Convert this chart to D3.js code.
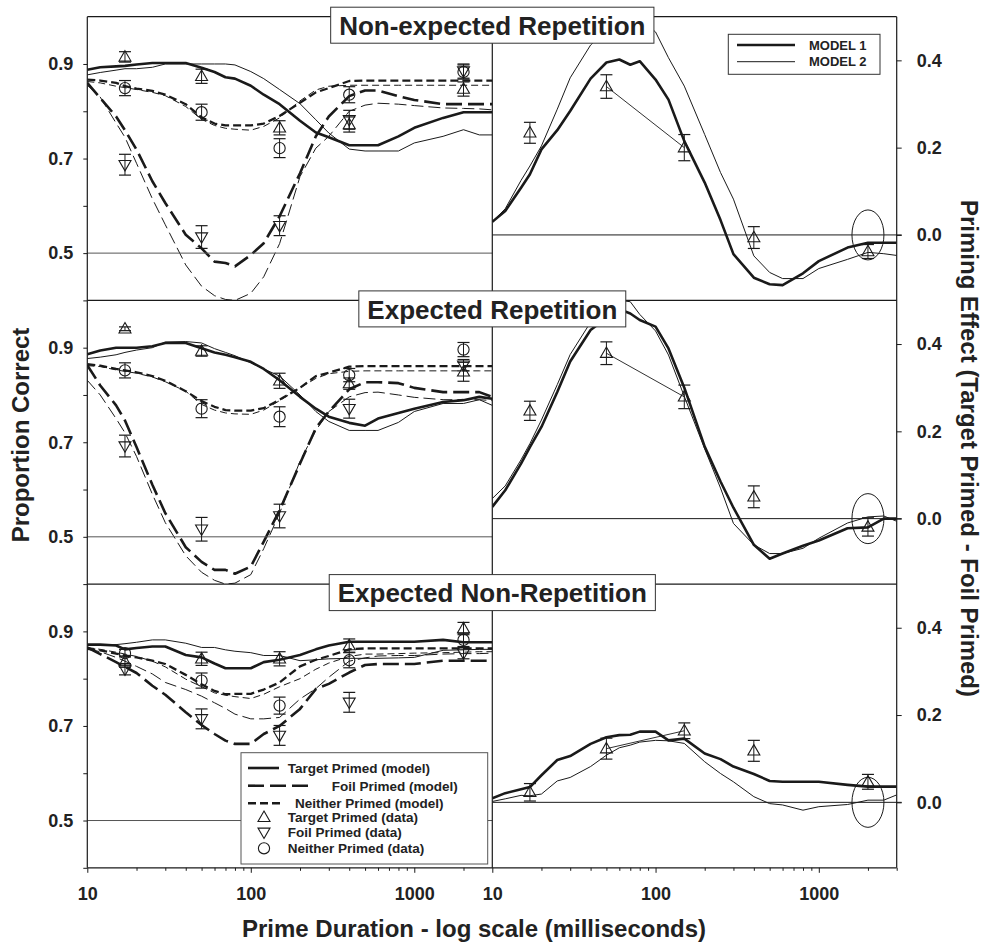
<!DOCTYPE html>
<html><head><meta charset="utf-8">
<script src="https://cdn.jsdelivr.net/npm/d3@7"></script>
<style>
body{margin:0;background:#fff}
svg{display:block}
text{font-family:"Liberation Sans",Arial,Helvetica,sans-serif;font-weight:bold;fill:#222}
</style>
</head><body><svg id="c" width="982" height="942"></svg>
<script>
// ---------- DATA ----------
const durations = [10,12,15,17,20,25,30,40,50,60,70,80,100,120,150,200,250,300,400,500,600,800,1000,1500,2000,2500,3000];
const dataDurations = [17,50,150,400,2000];
const panelTitles = ["Non-expected Repetition","Expected Repetition","Expected Non-Repetition"];
const leftTicks = [0.4,0.5,0.6,0.7,0.8,0.9];
const leftTickLabels = [0.5,0.7,0.9];
const rightTicks = [0.0,0.2,0.4];
const xMajorTicks = [10,100,1000];
const xMinorTicks = [20,30,40,50,60,70,80,90,200,300,400,500,600,700,800,900,2000,3000];

// Non-expected Repetition
const targetM1_NE = [0.888,0.893,0.895,0.896,0.899,0.902,0.902,0.902,0.892,0.883,0.872,0.869,0.854,0.835,0.815,0.78,0.755,0.745,0.728,0.728,0.728,0.747,0.765,0.786,0.798,0.798,0.798];
const targetM2_NE = [0.877,0.882,0.887,0.89,0.89,0.893,0.9,0.9,0.9,0.9,0.9,0.898,0.884,0.869,0.846,0.816,0.782,0.754,0.72,0.716,0.716,0.716,0.733,0.747,0.761,0.75,0.75];
const foilM1_NE = [0.86,0.828,0.789,0.76,0.719,0.652,0.606,0.539,0.51,0.482,0.479,0.472,0.496,0.521,0.578,0.669,0.747,0.789,0.832,0.844,0.844,0.832,0.824,0.815,0.815,0.815,0.815];
const foilM2_NE = [0.855,0.83,0.775,0.745,0.69,0.615,0.56,0.475,0.43,0.41,0.402,0.40,0.415,0.45,0.52,0.662,0.722,0.747,0.80,0.813,0.817,0.815,0.812,0.807,0.806,0.805,0.803];
const neitherM1_NE = [0.867,0.865,0.86,0.853,0.848,0.843,0.835,0.815,0.787,0.774,0.77,0.77,0.77,0.774,0.79,0.818,0.84,0.849,0.864,0.865,0.865,0.865,0.865,0.865,0.865,0.865,0.865];
const neitherM2_NE = [0.863,0.86,0.853,0.85,0.846,0.84,0.833,0.81,0.783,0.77,0.764,0.762,0.76,0.768,0.786,0.822,0.845,0.853,0.855,0.855,0.855,0.855,0.855,0.855,0.855,0.855,0.855];
const primeM1_NE = [0.03,0.055,0.108,0.139,0.196,0.24,0.284,0.358,0.395,0.402,0.39,0.398,0.356,0.31,0.215,0.12,0.034,-0.044,-0.098,-0.113,-0.115,-0.088,-0.06,-0.029,-0.018,-0.018,-0.018];
const primeM2_NE = [0.03,0.06,0.125,0.158,0.204,0.288,0.36,0.435,0.47,0.49,0.5,0.495,0.465,0.406,0.341,0.23,0.143,0.082,-0.048,-0.086,-0.1,-0.1,-0.077,-0.056,-0.04,-0.043,-0.047];
const targetData_NE = [0.915,0.874,0.765,0.772,0.847];
const targetErr_NE = [0.011,0.015,0.015,0.016,0.015];
const foilData_NE = [0.687,0.534,0.558,0.782,0.885];
const foilErr_NE = [0.022,0.024,0.021,0.02,0.015];
const neitherData_NE = [0.849,0.798,0.722,0.835,0.883];
const neitherErr_NE = [0.016,0.017,0.02,0.017,0.015];
const primeData_NE = [0.234,0.34,0.2,-0.006,-0.038];
const primeErr_NE = [0.024,0.027,0.03,0.025,0.016];

// Expected Repetition
const targetM1_ER = [0.886,0.894,0.9,0.9,0.9,0.903,0.91,0.91,0.899,0.89,0.885,0.88,0.87,0.855,0.831,0.796,0.771,0.754,0.741,0.735,0.75,0.762,0.771,0.785,0.789,0.796,0.792];
const targetM2_ER = [0.877,0.88,0.885,0.89,0.895,0.9,0.912,0.913,0.91,0.898,0.89,0.883,0.868,0.855,0.84,0.8,0.765,0.744,0.725,0.725,0.725,0.742,0.765,0.782,0.782,0.79,0.778];
const foilM1_ER = [0.863,0.82,0.778,0.746,0.69,0.61,0.55,0.478,0.447,0.43,0.43,0.422,0.437,0.49,0.556,0.655,0.73,0.765,0.812,0.827,0.827,0.825,0.815,0.806,0.806,0.806,0.796];
const foilM2_ER = [0.831,0.8,0.75,0.72,0.67,0.59,0.53,0.46,0.425,0.408,0.4,0.402,0.42,0.475,0.55,0.66,0.725,0.765,0.796,0.805,0.806,0.8,0.795,0.79,0.79,0.79,0.788];
const neitherM1_ER = [0.865,0.862,0.855,0.852,0.848,0.84,0.83,0.808,0.787,0.775,0.768,0.767,0.767,0.772,0.79,0.815,0.84,0.847,0.86,0.861,0.861,0.861,0.861,0.861,0.861,0.861,0.861];
const neitherM2_ER = [0.862,0.86,0.853,0.85,0.846,0.838,0.828,0.808,0.78,0.768,0.762,0.76,0.759,0.768,0.788,0.815,0.835,0.845,0.85,0.851,0.851,0.851,0.851,0.851,0.851,0.851,0.851];
const primeM1_ER = [0.027,0.065,0.126,0.164,0.21,0.29,0.36,0.432,0.46,0.48,0.47,0.455,0.44,0.39,0.3,0.165,0.085,0.025,-0.06,-0.092,-0.08,-0.062,-0.05,-0.022,-0.02,0.0,0.0];
const primeM2_ER = [0.046,0.075,0.135,0.172,0.226,0.307,0.376,0.45,0.48,0.5,0.497,0.468,0.43,0.375,0.28,0.16,0.07,-0.011,-0.06,-0.08,-0.08,-0.068,-0.045,-0.01,0.004,0.006,-0.006];
const targetData_ER = [0.94,0.893,0.83,0.824,0.849];
const targetErr_ER = [0.004,0.011,0.016,0.012,0.02];
const foilData_ER = [0.692,0.516,0.544,0.771,0.863];
const foilErr_ER = [0.023,0.025,0.025,0.02,0.012];
const neitherData_ER = [0.852,0.771,0.754,0.842,0.896];
const neitherErr_ER = [0.016,0.019,0.021,0.014,0.015];
const primeData_ER = [0.247,0.379,0.279,0.05,-0.019];
const primeErr_ER = [0.022,0.026,0.027,0.025,0.021];

// Expected Non-Repetition
const targetM1_EN = [0.872,0.872,0.87,0.862,0.865,0.868,0.868,0.85,0.845,0.832,0.822,0.822,0.822,0.835,0.84,0.85,0.862,0.87,0.878,0.878,0.878,0.878,0.878,0.882,0.877,0.877,0.877];
const targetM2_EN = [0.871,0.871,0.872,0.874,0.877,0.882,0.882,0.875,0.866,0.866,0.861,0.858,0.855,0.849,0.849,0.838,0.84,0.842,0.843,0.843,0.843,0.844,0.845,0.86,0.861,0.862,0.862];
const foilM1_EN = [0.866,0.852,0.835,0.825,0.812,0.785,0.766,0.729,0.702,0.683,0.669,0.662,0.662,0.683,0.70,0.736,0.778,0.789,0.813,0.829,0.831,0.831,0.831,0.838,0.838,0.838,0.838];
const foilM2_EN = [0.863,0.857,0.845,0.837,0.826,0.81,0.792,0.777,0.763,0.749,0.737,0.725,0.715,0.715,0.718,0.757,0.779,0.803,0.837,0.844,0.848,0.849,0.849,0.852,0.853,0.853,0.854];
const neitherM1_EN = [0.863,0.86,0.853,0.849,0.845,0.838,0.831,0.808,0.788,0.774,0.767,0.768,0.768,0.777,0.792,0.826,0.84,0.848,0.862,0.864,0.864,0.864,0.864,0.864,0.864,0.864,0.864];
const neitherM2_EN = [0.866,0.862,0.856,0.852,0.847,0.837,0.825,0.799,0.783,0.77,0.765,0.762,0.758,0.767,0.783,0.8,0.82,0.833,0.847,0.852,0.852,0.853,0.854,0.855,0.856,0.857,0.857];
const primeM1_EN = [0.009,0.021,0.03,0.035,0.062,0.097,0.106,0.134,0.149,0.154,0.155,0.162,0.162,0.142,0.146,0.112,0.099,0.082,0.065,0.049,0.047,0.047,0.047,0.04,0.036,0.036,0.036];
const primeM2_EN = [0.002,0.008,0.016,0.015,0.019,0.049,0.057,0.082,0.108,0.125,0.131,0.138,0.142,0.141,0.135,0.093,0.066,0.047,0.013,-0.003,-0.006,-0.018,-0.01,-0.005,0.005,0.005,0.017];
const targetData_EN = [0.836,0.842,0.842,0.87,0.906];
const targetErr_EN = [0.012,0.014,0.015,0.014,0.013];
const foilData_EN = [0.82,0.715,0.68,0.75,0.854];
const foilErr_EN = [0.012,0.021,0.021,0.021,0.012];
const neitherData_EN = [0.854,0.796,0.743,0.839,0.882];
const neitherErr_EN = [0.008,0.016,0.018,0.016,0.014];
const primeData_EN = [0.023,0.123,0.164,0.118,0.047];
const primeErr_EN = [0.02,0.024,0.018,0.024,0.017];

// ---------- BUILD ----------
const panels = [
  {title:panelTitles[0], tM1:targetM1_NE,tM2:targetM2_NE,fM1:foilM1_NE,fM2:foilM2_NE,nM1:neitherM1_NE,nM2:neitherM2_NE,pM1:primeM1_NE,pM2:primeM2_NE,
   tD:targetData_NE,tE:targetErr_NE,fD:foilData_NE,fE:foilErr_NE,nD:neitherData_NE,nE:neitherErr_NE,pD:primeData_NE,pE:primeErr_NE},
  {title:panelTitles[1], tM1:targetM1_ER,tM2:targetM2_ER,fM1:foilM1_ER,fM2:foilM2_ER,nM1:neitherM1_ER,nM2:neitherM2_ER,pM1:primeM1_ER,pM2:primeM2_ER,
   tD:targetData_ER,tE:targetErr_ER,fD:foilData_ER,fE:foilErr_ER,nD:neitherData_ER,nE:neitherErr_ER,pD:primeData_ER,pE:primeErr_ER},
  {title:panelTitles[2], tM1:targetM1_EN,tM2:targetM2_EN,fM1:foilM1_EN,fM2:foilM2_EN,nM1:neitherM1_EN,nM2:neitherM2_EN,pM1:primeM1_EN,pM2:primeM2_EN,
   tD:targetData_EN,tE:targetErr_EN,fD:foilData_EN,fE:foilErr_EN,nD:neitherData_EN,nE:neitherErr_EN,pD:primeData_EN,pE:primeErr_EN}
];

const svg = d3.select("#c");
const INK = "#1a1a1a";
const X0 = 87.3, XM = 492.3, X1 = 896.7, TOP = 16.7, PH = 283.7;
const BOT = TOP + 3*PH;
const xL = d3.scaleLog().domain([10,3000]).range([X0, XM]);
const xR = d3.scaleLog().domain([10,3000]).range([XM, X1]);

const styles = {
  tM1:{w:2.6,dash:null}, tM2:{w:1,dash:null},
  fM1:{w:2.6,dash:"16,6"}, fM2:{w:1,dash:"12,5"},
  nM1:{w:2.3,dash:"8,4"}, nM2:{w:1,dash:"7,4"},
  pM1:{w:2.6,dash:null}, pM2:{w:1,dash:null}
};

const defs = svg.append("defs");
const gLines = svg.append("g");
const gFrame = svg.append("g");
const gMarks = svg.append("g");
const gTop = svg.append("g");

function triPath(up){ return up ? "M0,-6.2L6,4.2L-6,4.2Z" : "M0,6.2L6,-4.2L-6,-4.2Z"; }

function drawMarkers(g, x, y, vals, errs, kind){
  vals.forEach((v,i)=>{
    const cx = x(dataDurations[i]);
    const e = errs[i];
    const y1 = y(v+e), y2 = y(v-e);
    g.append("line").attr("x1",cx).attr("x2",cx).attr("y1",y1).attr("y2",y2).attr("stroke",INK).attr("stroke-width",1);
    [y1,y2].forEach(yy=> g.append("line").attr("x1",cx-6).attr("x2",cx+6).attr("y1",yy).attr("y2",yy).attr("stroke",INK).attr("stroke-width",1.2));
    const cy = y(v);
    if(kind==="circle"){
      g.append("circle").attr("cx",cx).attr("cy",cy).attr("r",5.6).attr("fill","none").attr("stroke",INK).attr("stroke-width",1.1);
    } else {
      g.append("path").attr("d",triPath(kind==="up")).attr("transform",`translate(${cx},${cy})`).attr("fill","none").attr("stroke",INK).attr("stroke-width",1.1);
    }
  });
}

panels.forEach((p,i)=>{
  const top = TOP + i*PH, bot = top + PH;
  const yL = d3.scaleLinear().domain([0.4,1.0]).range([bot, top]);
  const yR = d3.scaleLinear().domain([-0.15,0.5]).range([bot, top]);

  defs.append("clipPath").attr("id","cl"+i).append("rect").attr("x",X0).attr("y",top).attr("width",XM-X0).attr("height",PH);
  defs.append("clipPath").attr("id","cr"+i).append("rect").attr("x",XM).attr("y",top).attr("width",X1-XM).attr("height",PH);

  // reference lines
  gFrame.append("line").attr("x1",X0).attr("x2",XM).attr("y1",yL(0.5)).attr("y2",yL(0.5)).attr("stroke","#555").attr("stroke-width",1);
  gFrame.append("line").attr("x1",XM).attr("x2",X1+5).attr("y1",yR(0)).attr("y2",yR(0)).attr("stroke",INK).attr("stroke-width",1);

  // model curves (left)
  const lineL = d3.line().x((d,j)=>xL(durations[j])).y(d=>yL(d));
  const lineR = d3.line().x((d,j)=>xR(durations[j])).y(d=>yR(d));
  const gl = gLines.append("g").attr("clip-path",`url(#cl${i})`);
  ["tM2","fM2","nM2","tM1","fM1","nM1"].forEach(k=>{
    gl.append("path").attr("d",lineL(p[k])).attr("fill","none").attr("stroke",INK)
      .attr("stroke-width",styles[k].w).attr("stroke-dasharray",styles[k].dash).attr("stroke-linejoin","round");
  });
  const gr = gLines.append("g").attr("clip-path",`url(#cr${i})`);
  ["pM2","pM1"].forEach(k=>{
    gr.append("path").attr("d",lineR(p[k])).attr("fill","none").attr("stroke",INK)
      .attr("stroke-width",styles[k].w).attr("stroke-linejoin","round");
  });

  // data
  drawMarkers(gMarks, xL, yL, p.tD, p.tE, "up");
  drawMarkers(gMarks, xL, yL, p.fD, p.fE, "down");
  drawMarkers(gMarks, xL, yL, p.nD, p.nE, "circle");
  gMarks.append("line").attr("x1",xR(dataDurations[1])).attr("y1",yR(p.pD[1])).attr("x2",xR(dataDurations[2])).attr("y2",yR(p.pD[2])).attr("stroke",INK).attr("stroke-width",0.9);
  drawMarkers(gMarks, xR, yR, p.pD, p.pE, "up");
  gMarks.append("ellipse").attr("cx",xR(2000)).attr("cy",yR(0)).attr("rx",16).attr("ry",25).attr("fill","none").attr("stroke",INK).attr("stroke-width",1);

  // left axis
  const axL = gFrame.append("g").attr("transform",`translate(${X0},0)`)
    .call(d3.axisLeft(yL).tickValues(leftTicks).tickSize(4).tickPadding(10)
      .tickFormat(d=> leftTickLabels.some(v=>Math.abs(v-d)<1e-9) ? d3.format(".1f")(d) : ""));
  axL.select(".domain").remove();
  axL.selectAll("line").attr("stroke",INK);
  axL.selectAll("text").style("font-size","18px").style("fill","#222").attr("font-family",null);

  // right axis
  const axR = gFrame.append("g").attr("transform",`translate(${X1},0)`)
    .call(d3.axisRight(yR).tickValues(rightTicks).tickSize(5).tickPadding(15).tickFormat(d3.format(".1f")));
  axR.select(".domain").remove();
  axR.selectAll("line").attr("stroke",INK);
  axR.selectAll("text").style("font-size","18px").style("fill","#222");

  // title box
  const tt = gTop.append("text").attr("x",XM).attr("y",top+18.3).attr("text-anchor","middle").style("font-size","26px").text(p.title);
  const w = tt.node().getComputedTextLength();
  gTop.insert("rect","text").attr("x",XM - w/2 - 8.5).attr("y",top-9.5).attr("width",w+17).attr("height",36)
    .attr("fill","#fff").attr("stroke","#333").attr("stroke-width",1);
});

// frame
const frameLines = [
  [X0,TOP,X1,TOP],[X0,TOP+PH,X1,TOP+PH],[X0,TOP+2*PH,X1,TOP+2*PH],[X0,BOT,X1,BOT],
  [X0,TOP,X0,BOT],[XM,TOP,XM,BOT],[X1,TOP,X1,BOT]
];
frameLines.forEach(l=> gFrame.append("line").attr("x1",l[0]).attr("y1",l[1]).attr("x2",l[2]).attr("y2",l[3]).attr("stroke",INK).attr("stroke-width",1.2));

// bottom axes
[[xL,false],[xR,true]].forEach(([sc,isRight])=>{
  const gMaj = gFrame.append("g").attr("transform",`translate(0,${BOT})`)
    .call(d3.axisBottom(sc).tickValues(xMajorTicks).tickSize(5).tickPadding(14).tickFormat(d3.format("d")));
  gMaj.select(".domain").remove();
  gMaj.selectAll("line").attr("stroke",INK);
  gMaj.selectAll("text").style("font-size","18px").style("fill","#222");
  const gMin = gFrame.append("g").attr("transform",`translate(0,${BOT})`)
    .call(d3.axisBottom(sc).tickValues(xMinorTicks.filter(v=> isRight || v<3000)).tickSize(3).tickFormat(""));
  gMin.select(".domain").remove();
  gMin.selectAll("line").attr("stroke",INK);
});

// axis titles
gTop.append("text").attr("x",474).attr("y",937).attr("text-anchor","middle").style("font-size","24px").text("Prime Duration - log scale (milliseconds)");
gTop.append("text").attr("transform","translate(29,435) rotate(-90)").attr("text-anchor","middle").style("font-size","24px").text("Proportion Correct");
gTop.append("text").attr("transform","translate(961,448.5) rotate(90)").attr("text-anchor","middle").style("font-size","24px").text("Priming Effect (Target Primed - Foil Primed)");

// legend: models (top right)
const lg1 = gTop.append("g");
lg1.append("rect").attr("x",728.3).attr("y",34.3).attr("width",151.7).attr("height",40).attr("fill","#fff").attr("stroke","#333");
const modelLegend = [["MODEL 1",2.6,45],["MODEL 2",1,61.7]];
modelLegend.forEach(([lab,w,yy])=>{
  lg1.append("line").attr("x1",737).attr("x2",795).attr("y1",yy).attr("y2",yy).attr("stroke",INK).attr("stroke-width",w);
  lg1.append("text").attr("x",809).attr("y",yy+4.7).style("font-size","13px").text(lab);
});

// legend: conditions (bottom left)
const lg2 = gTop.append("g");
lg2.append("rect").attr("x",241).attr("y",752.7).attr("width",246.7).attr("height",111.3).attr("fill","#fff").attr("stroke","#555");
const lineLegend = [
  ["Target Primed (model)", 768, 279, null, 287.7],
  ["Foil Primed (model)", 785.7, 308, "16,6", 331.7],
  ["Neither Primed (model)", 803.3, 282, "8,4", 295]
];
lineLegend.forEach(([lab,yy,xe,dash,tx])=>{
  lg2.append("line").attr("x1",248).attr("x2",xe).attr("y1",yy).attr("y2",yy).attr("stroke",INK).attr("stroke-width",2.6).attr("stroke-dasharray",dash);
  lg2.append("text").attr("x",tx).attr("y",yy+4.8).style("font-size","13.5px").text(lab);
});
const symLegend = [["Target Primed (data)",817.3,"up"],["Foil Primed (data)",832.3,"down"],["Neither Primed (data)",848.3,"circle"]];
symLegend.forEach(([lab,yy,kind])=>{
  if(kind==="circle") lg2.append("circle").attr("cx",264).attr("cy",yy).attr("r",5.6).attr("fill","none").attr("stroke",INK).attr("stroke-width",1.1);
  else lg2.append("path").attr("d",triPath(kind==="up")).attr("transform",`translate(264,${yy})`).attr("fill","none").attr("stroke",INK).attr("stroke-width",1.1);
  lg2.append("text").attr("x",287.7).attr("y",yy+4.8).style("font-size","13.5px").text(lab);
});
</script>
</body></html>
